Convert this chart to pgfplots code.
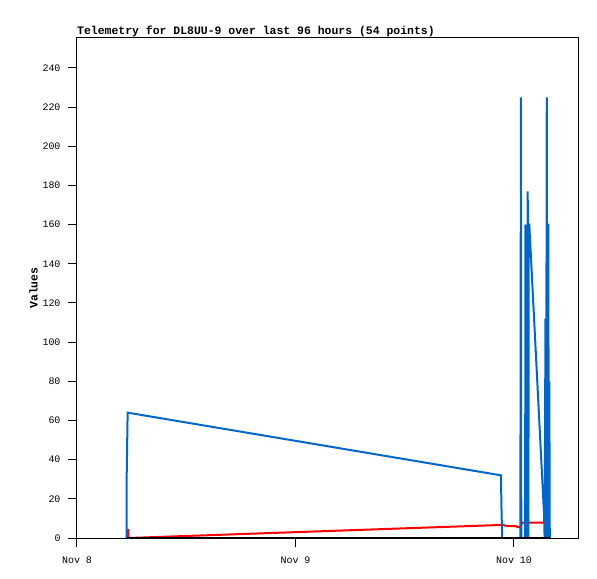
\documentclass[border=0pt]{standalone}
\usepackage{fontspec}
\setmainfont{Liberation Sans}
\setmonofont{Liberation Mono}
\usepackage{pgfplots}
\usepackage{pgfplotstable}
\pgfplotsset{compat=1.18}
\definecolor{tblue}{HTML}{0066CC}
\definecolor{tred}{HTML}{FF0000}

% hours since Nov 8 00:00
\pgfplotstableread{
h v
5.45 0
5.46 32
5.56 64
46.57 32
46.62 16
46.70 0
48.70 0
48.76 225
48.80 0
49.22 0
49.26 160
49.30 0
49.34 160
49.38 80
49.42 160
49.46 0
49.50 177
49.54 160
49.58 0
49.62 160
49.68 160
51.30 12
51.36 0
51.46 112
51.52 0
51.60 225
51.65 0
51.71 160
51.77 160
51.82 0
51.88 80
51.93 0
}\bluedata

\pgfplotstableread{
h v
5.60 0
5.63 4.6
5.66 0
46.80 6.7
47.23 6.1
48.22 6.1
48.33 5.6
48.66 5.6
48.94 7.9
52.00 7.9
}\reddata

\pgfplotstableread{
h v
5.45 0
52.00 0
}\blackdata

\begin{document}
\begin{tikzpicture}
\begin{axis}[
  at={(0,0)}, anchor=south west,
  scale only axis,
  width=501bp, height=500bp,
  xmin=0, xmax=55.03,
  ymin=0, ymax=255.3,
  axis line style={black, line width=1bp},
  tick style={black, line width=1bp},
  tick align=outside,
  major tick length=9bp,
  xtick pos=bottom, ytick pos=left,
  xtick={0,24,48},
  xticklabels={Nov 8,Nov 9,Nov 10},
  ytick={0,20,...,240},
  /pgf/number format/assume math mode=true,
  ticklabel style={font=\ttfamily\fontsize{10}{11}\selectfont},
  yticklabel style={xshift=-4bp},
  xticklabel style={yshift=-6bp},
  title={Telemetry for DL8UU-9 over last 96 hours (54 points)},
  title style={at={(axis description cs:0,1)}, anchor=base west, inner sep=0pt, yshift=-2bp,
    font=\ttfamily\bfseries\fontsize{11.5}{12}\selectfont},
  ylabel={Values},
  ylabel style={at={(axis description cs:-0.087,0.5)}, anchor=center, inner sep=0pt,
    font=\ttfamily\bfseries\fontsize{11.5}{12}\selectfont},
  clip=true,
]
\addplot[tred, line width=2bp, mark=none] table[x=h, y=v] {\reddata};
\addplot[tblue, line width=2bp, mark=none] table[x=h, y=v] {\bluedata};
\addplot[black, line width=2bp, mark=none] table[x=h, y=v] {\blackdata};
\end{axis}
\pgfresetboundingbox
\path[use as bounding box] (-77bp,-41bp) rectangle (520bp,538bp);
\end{tikzpicture}
\end{document}
